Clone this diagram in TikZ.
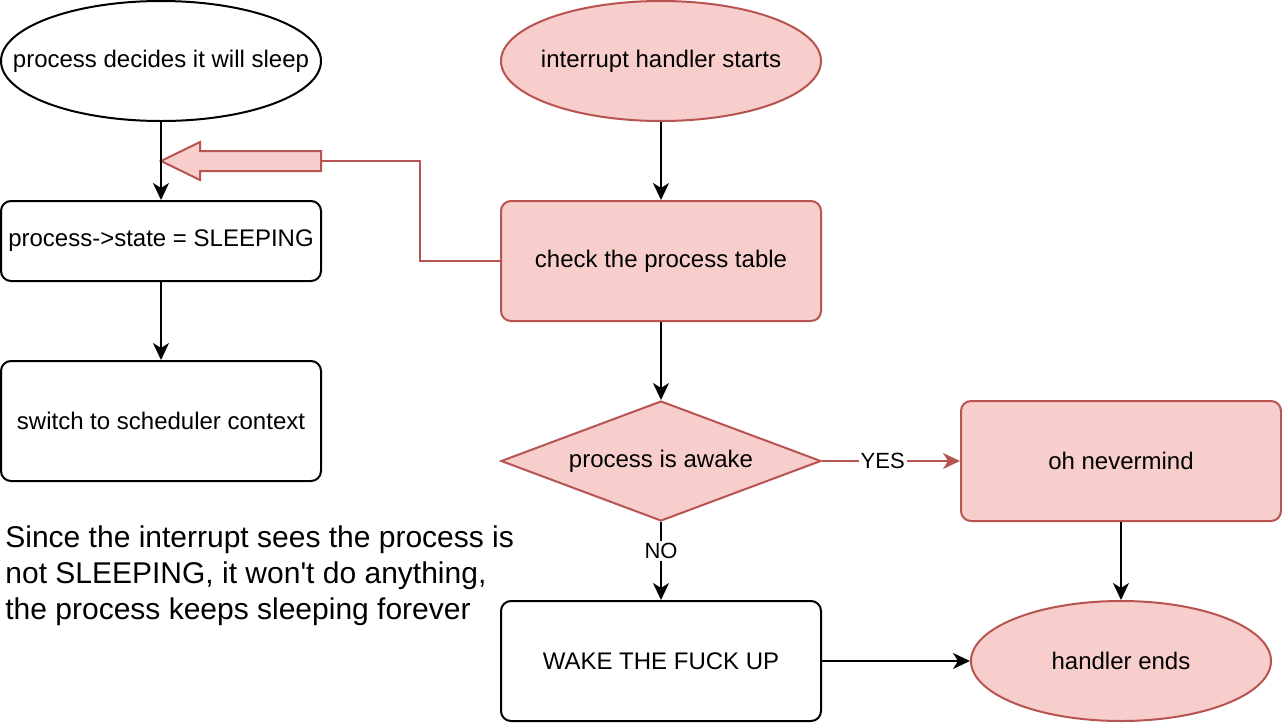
\documentclass[tikz,border=0pt]{standalone}
\usepackage{fontspec}
\setmainfont{Liberation Sans}
\usetikzlibrary{shapes.geometric,arrows.meta,calc}
\definecolor{pinkfill}{HTML}{F8CECC}
\definecolor{pinkdraw}{HTML}{B85450}
\newcommand{\zw}[1]{\makebox[0pt][c]{#1}}
\tikzset{
  base/.style={line width=1pt, font=\fontsize{12}{14.4}\selectfont, inner sep=2pt, align=center},
  oval/.style={base, ellipse, inner sep=0pt, draw=black, fill=white, minimum width=160pt, minimum height=60pt},
  pinkoval/.style={oval, draw=pinkdraw, fill=pinkfill},
  box/.style={base, rectangle, rounded corners=5pt, draw=black, fill=white, minimum width=160pt},
  pinkbox/.style={box, draw=pinkdraw, fill=pinkfill},
  decision/.style={base, diamond, aspect=2.6667, inner sep=0pt, draw=pinkdraw, fill=pinkfill, minimum width=160pt, minimum height=60pt},
  conn/.style={line width=1pt, -{Stealth[length=8.5pt,width=8pt,inset=2.5pt]}},
  lbl/.style={font=\fontsize{11}{13}\selectfont, fill=white, inner sep=1pt}
}
\begin{document}
\begin{tikzpicture}[x=0.5pt,y=-0.5pt]
\useasboundingbox (0,0) rectangle (1282,724);
% left column
\node[oval] (e1) at (161,61) {\zw{process decides it will sleep}};
\node[box, minimum height=40pt] (r1) at (161,241) {process-\textgreater state = SLEEPING};
\node[box, minimum height=60pt] (r2) at (161,421) {switch to scheduler context};
% middle column
\node[pinkoval] (e2) at (661,61) {\zw{interrupt handler starts}};
\node[pinkbox, minimum height=60pt] (r3) at (661,261) {check the process table};
\node[decision] (d1) at (661,461) {\zw{process is awake}};
\node[box, minimum height=60pt] (r5) at (661,661) {WAKE THE FUCK UP};
% right column
\node[pinkbox, minimum height=60pt] (r4) at (1121,461) {oh nevermind};
\node[pinkoval, minimum width=150pt] (e3) at (1121,661) {\zw{handler ends}};
% free text
\node[anchor=west, align=left, inner sep=0pt, font=\fontsize{15}{18}\selectfont] (note) at (5,576)
  {Since the interrupt sees the process is\\not SLEEPING, it won\textquotesingle t do anything,\\the process keeps sleeping forever};
% block arrow
\coordinate (bt) at (321,161);
\coordinate (btip) at (161,161);
\fill[pinkfill, draw=pinkdraw, line width=1pt, line join=miter]
  (bt) ++(0,-10) -- (200,151) -- (200,142) -- (btip) -- (200,180) -- (200,171) -- ($(bt)+(0,10)$) -- cycle;
% connectors
\draw[conn] (e1) -- (r1);
\draw[conn] (r1) -- (r2);
\draw[conn] (e2) -- (r3);
\draw[conn] (r3) -- (d1);
\draw[conn, draw=pinkdraw, fill=pinkdraw] (d1) -- node[lbl, pos=0.44] {YES} (r4);
\draw[conn] (d1) -- node[lbl, pos=0.375] {NO} (r5);
\draw[conn] (r5) -- (e3);
\draw[conn] (r4) -- (e3);
\draw[line width=1pt, draw=pinkdraw] (r3.west) -- ++(-80,0) |- (bt);
\end{tikzpicture}
\end{document}
